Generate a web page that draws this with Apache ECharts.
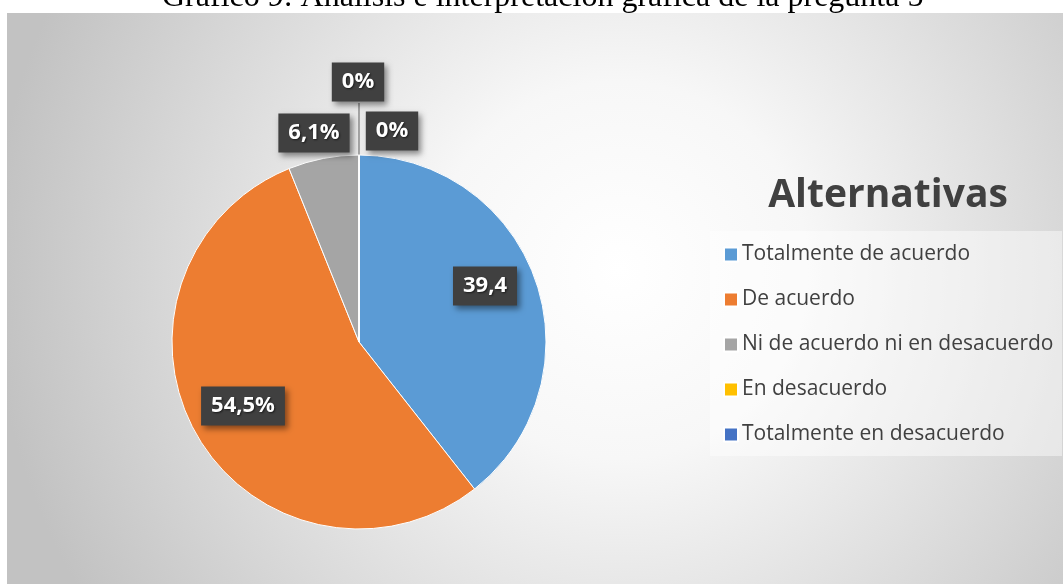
<!DOCTYPE html>
<html>
<head>
<meta charset="utf-8">
<script src="https://cdn.jsdelivr.net/npm/echarts@6/dist/echarts.min.js"></script>
<style>
  html, body { margin: 0; padding: 0; background: #fff; }
  #chart { width: 1063px; height: 584px; }
</style>
</head>
<body>
<div id="chart"></div>
<script>
const categories = [
  'Totalmente de acuerdo',
  'De acuerdo',
  'Ni de acuerdo ni en desacuerdo',
  'En desacuerdo',
  'Totalmente en desacuerdo'
]
const values = [39.4, 54.5, 6.1, 0, 0]
const labelTexts = ['39,4', '54,5%', '6,1%', '0%', '0%']
const colors = ['#5b9bd5', '#ed7d31', '#a5a5a5', '#ffc000', '#4472c4']

// label spots, same look as the source picture
const labelSpots = [
  [485, 286],
  [243, 406],
  [314, 133],
  [392, 131],
  [358, 82]
]

const chart = echarts.init(document.getElementById('chart'))
chart.setOption({
  animation: false,
  graphic: [
    {
      type: 'text',
      z: -12,
      left: 162,
      top: -18,
      style: {
        text: 'Gráfico 9: Análisis e interpretación gráfica de la pregunta 5',
        font: '32px "Liberation Serif"',
        fill: '#000'
      }
    },
    {
      type: 'rect',
      z: -10,
      shape: { x: 7, y: 13, width: 1056, height: 571 },
      style: {
        fill: {
          type: 'radial',
          x: 0.58,
          y: 0.45,
          r: 1.1,
          colorStops: [
            { offset: 0, color: '#ffffff' },
            { offset: 0.3, color: '#f7f7f7' },
            { offset: 1, color: '#c2c2c2' }
          ]
        }
      }
    },
    {
      type: 'rect',
      z: -9,
      shape: { x: 710, y: 231, width: 352, height: 225 },
      style: { fill: 'rgba(255,255,255,0.45)' }
    }
  ],
  title: {
    text: 'Alternativas',
    left: 883,
    top: 171,
    textAlign: 'center',
    textStyle: {
      fontFamily: 'Open Sans',
      fontSize: 39,
      fontWeight: 'bold',
      color: '#404040'
    }
  },
  legend: {
    orient: 'vertical',
    left: 723,
    top: 244,
    padding: 0,
    itemWidth: 14,
    itemHeight: 14,
    itemGap: 24,
    icon: 'rect',
    data: categories,
    textStyle: {
      fontFamily: 'Open Sans',
      fontSize: 21,
      lineHeight: 21,
      color: '#404040',
      padding: [0, 0, 0, -1]
    }
  },
  series: [
    {
      type: 'pie',
      center: [359, 342],
      radius: 187,
      startAngle: 90,
      clockwise: true,
      color: colors,
      itemStyle: { borderColor: '#ffffff', borderWidth: 1 },
      label: {
        show: true,
        position: 'outside',
        formatter: (p) => labelTexts[p.dataIndex],
        fontFamily: 'Open Sans',
        fontSize: 22,
        fontWeight: 'bold',
        color: '#ffffff',
        backgroundColor: '#404040',
        padding: [9, 10, 8, 10],
        shadowColor: 'rgba(0,0,0,0.45)',
        shadowBlur: 6,
        shadowOffsetX: 3,
        shadowOffsetY: 3,
        textShadowColor: 'rgba(0,0,0,0.6)',
        textShadowBlur: 2,
        textShadowOffsetX: 1,
        textShadowOffsetY: 1
      },
      labelLine: { show: false },
      labelLayout: (params) => {
        const spot = labelSpots[params.dataIndex]
        const out = {
          x: spot[0],
          y: spot[1],
          align: 'center',
          verticalAlign: 'middle',
          hideOverlap: false,
          moveOverlap: false
        }
        if (params.dataIndex === 4) {
          out.labelLinePoints = [[359, 103], [359, 130], [359, 155]]
        }
        return out
      },
      data: categories.map((name, i) => ({
        name: name,
        value: values[i],
        labelLine: i === 4 ? { show: true, lineStyle: { color: '#7f7f7f', width: 1.3 } } : { show: false }
      }))
    }
  ]
})
</script>
</body>
</html>
